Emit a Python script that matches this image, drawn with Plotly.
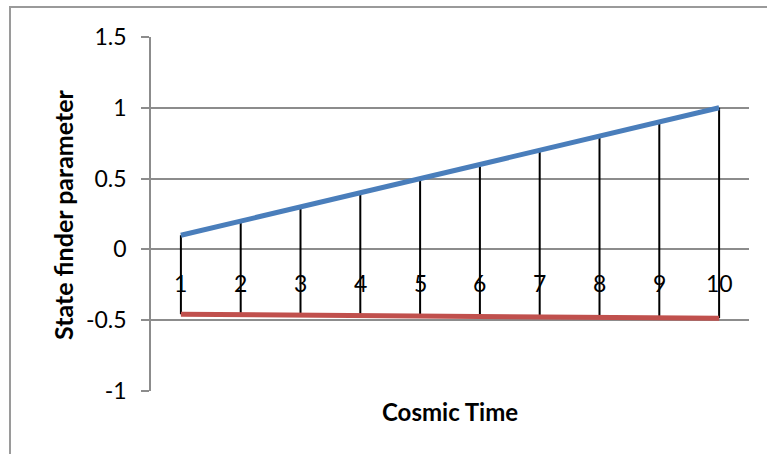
import plotly.graph_objects as go

# Cosmic time steps and the two state finder parameters
cosmic_time = [1, 2, 3, 4, 5, 6, 7, 8, 9, 10]
param_r = [0.1, 0.2, 0.3, 0.4, 0.5, 0.6, 0.7, 0.8, 0.9, 1.0]
param_s = [-0.458, -0.461, -0.464, -0.467, -0.470, -0.473, -0.476, -0.479, -0.482, -0.486]

y_tick_vals = [1.5, 1, 0.5, 0, -0.5, -1]
y_tick_text = ["1.5", "1", "0.5", "0", "-0.5", "-1"]

FONT = "Lato"
GRID = "#8c8c8c"

fig = go.Figure()

# high-low lines joining the two series at every time step
hl_x, hl_y = [], []
for t, top, bottom in zip(cosmic_time, param_r, param_s):
    hl_x += [t, t, None]
    hl_y += [top, bottom, None]
fig.add_trace(go.Scatter(x=hl_x, y=hl_y, mode="lines",
                         line=dict(color="black", width=2),
                         hoverinfo="skip", showlegend=False))

fig.add_trace(go.Scatter(x=cosmic_time, y=param_s, mode="lines",
                         line=dict(color="#C0504D", width=5),
                         showlegend=False))
fig.add_trace(go.Scatter(x=cosmic_time, y=param_r, mode="lines",
                         line=dict(color="#4A7EBB", width=5),
                         showlegend=False))

# category labels sit next to the horizontal axis, which crosses at zero
annotations = [
    dict(x=t, y=-0.24, xref="x", yref="y", text=str(t), showarrow=False,
         xanchor="center", yanchor="middle",
         font=dict(family=FONT, size=23, color="black"))
    for t in cosmic_time
]
annotations.append(dict(x=(63 - 151) / 598, y=0.5, xref="paper", yref="paper",
                        text="<b>State finder parameter</b>", textangle=-90,
                        showarrow=False, xanchor="center", yanchor="middle",
                        font=dict(family=FONT, size=25, color="black")))
annotations.append(dict(x=0.5, y=-(411 - 391) / 354, xref="paper", yref="paper",
                        text="<b>Cosmic Time</b>", showarrow=False,
                        xanchor="center", yanchor="middle",
                        font=dict(family=FONT, size=24, color="black")))

fig.update_layout(
    width=767, height=454,
    margin=dict(l=151, r=18, t=37, b=63),
    paper_bgcolor="white", plot_bgcolor="white",
    annotations=annotations,
    shapes=[dict(type="rect", xref="paper", yref="paper",
                 x0=(10 - 151) / 598, x1=(790 - 151) / 598,
                 y0=(391 - 480) / 354, y1=(391 - 7) / 354,
                 line=dict(color="#9a9a9a", width=2), layer="below")],
)
fig.update_xaxes(range=[0.5, 10.5], showgrid=False, zeroline=False,
                 showticklabels=False, showline=False, ticks="")
fig.update_yaxes(range=[-1, 1.5], tickvals=y_tick_vals, ticktext=y_tick_text,
                 showgrid=True, gridcolor=GRID, gridwidth=1.5, zeroline=False,
                 showline=True, linecolor=GRID, linewidth=1.5,
                 ticks="outside", ticklen=8, tickcolor=GRID, tickwidth=1.5,
                 ticklabelstandoff=10,
                 tickfont=dict(family=FONT, size=23, color="black"))

fig.write_html("out.html")
